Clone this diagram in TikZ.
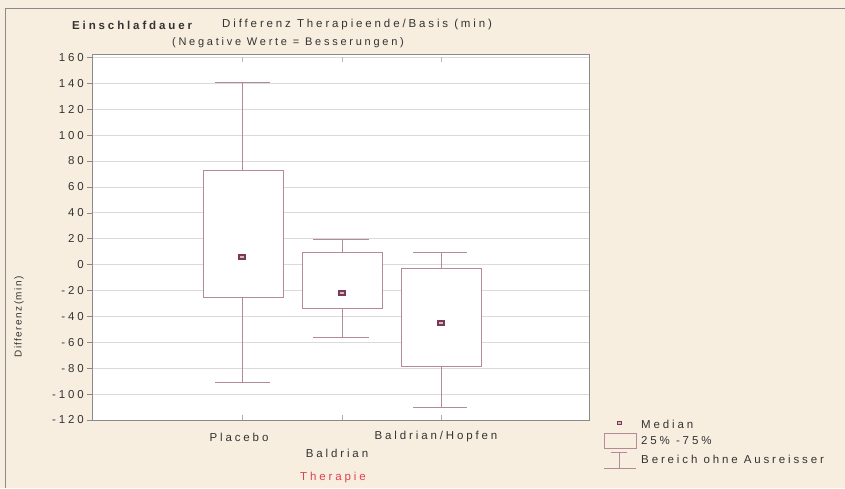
\documentclass[tikz,border=0pt]{standalone}
\usepackage{fontspec}
\setmainfont{Liberation Sans}
\newfontfamily\lsp[LetterSpace=25]{Liberation Sans}
\newfontfamily\lspy[LetterSpace=14]{Liberation Sans}
\definecolor{bg}{HTML}{F7EEDF}
\definecolor{frame}{HTML}{8A8A8A}
\definecolor{grid}{HTML}{DADADA}
\definecolor{boxc}{HTML}{B48A96}
\definecolor{medc}{HTML}{7A3A55}
\definecolor{txt}{HTML}{333333}
\definecolor{redt}{HTML}{E0404E}
\tikzset{
  lbl/.style={font=\lsp\fontsize{11.5}{13}\selectfont, text=txt, inner sep=0pt},
  ylbl/.style={lbl, anchor=east},
  boxline/.style={draw=boxc, line width=0.9pt},
  medmark/.style={draw=medc, fill=medc!35, line width=1.3pt, minimum width=6pt, minimum height=4pt, inner sep=0pt},
}
\begin{document}
\begin{tikzpicture}[x=1pt,y=-1pt]
\useasboundingbox (0,0) rectangle (845,488);
\fill[bg] (0,0) rectangle (845,488);
\draw[frame, line width=1pt] (5,488) -- (5,8) -- (845,8);
% plot area
\fill[white] (92,54) rectangle (589,420);
% titles
\node[lbl, font=\lsp\bfseries\fontsize{11.5}{13}\selectfont, anchor=west] (t1) at (72,25) {Einschlafdauer};
\node[lbl, anchor=west] (t2) at (222,25) {Differenz Therapieende/Basis (min)};
\node[lbl, font=\lsp\fontsize{11}{12}\selectfont] (t3) at (288,43) {(Negative Werte = Besserungen)};
% data scope
\begin{scope}[shift={(0,264.6)}, y=1.2946pt]
  \foreach \v in {160,140,...,-100}{
    \draw[grid, line width=0.7pt] (92,\v) -- (589,\v);
    \draw[frame, line width=0.6pt] (87,\v) -- (92,\v);
  }
  \draw[frame, line width=0.6pt] (87,-120) -- (92,-120);
  \foreach \v in {160,140,...,-120}{
    \node[ylbl] at (84,\v) {\v};
  }
  % category ticks
  \foreach \c in {242,342,441}{
    \draw[frame!70, line width=0.6pt] (\c,-120) -- (\c,-116.5);
    \draw[frame!60, line width=0.6pt] (\c,160) -- (\c,156.5);
  }
  % Placebo
  \draw[boxline] (242,141) -- (242,-91.4);
  \draw[boxline] (215,141) -- (270,141);
  \draw[boxline] (215,-91.4) -- (270,-91.4);
  \draw[boxline, fill=white] (203,73.1) rectangle (283,-25);
  \node[medmark] (m1) at (242,5.9) {};
  % Baldrian
  \draw[boxline] (342,19.8) -- (342,-56);
  \draw[boxline] (313,19.8) -- (369,19.8);
  \draw[boxline] (313,-56) -- (369,-56);
  \draw[boxline, fill=white] (302,9.7) rectangle (382,-33.5);
  \node[medmark] (m2) at (342,-22) {};
  % Baldrian/Hopfen
  \draw[boxline] (441,9.7) -- (441,-110);
  \draw[boxline] (413,9.7) -- (467,9.7);
  \draw[boxline] (413,-110) -- (467,-110);
  \draw[boxline, fill=white] (401,-2.6) rectangle (481,-78.3);
  \node[medmark] (m3) at (441,-45) {};
\end{scope}
% axes frame
\draw[frame, line width=0.9pt] (92,54) rectangle (589,420);
% category labels
\node[lbl] (c1) at (239,437) {Placebo};
\node[lbl] (c2) at (337,453) {Baldrian};
\node[lbl] (c3) at (436,437) {Baldrian/Hopfen};
\node[lbl, text=redt] (xt) at (333,478) {Therapie};
% y axis title
\node[lbl, font=\lspy\fontsize{10}{12}\selectfont, rotate=90] (yt) at (19,317) {Differenz(min)};
% legend
\node[medmark, minimum width=4pt, minimum height=3pt, line width=1pt] (lm) at (619,423) {};
\node[lbl, anchor=west] (l1) at (641,424) {Median};
\draw[boxline, line width=0.7pt] (604,433) rectangle (636,448);
\node[lbl, anchor=west] (l2) at (641,441) {25\% -75\%};
\draw[boxline, line width=0.7pt] (611,452) -- (627,452);
\draw[boxline, line width=0.7pt] (619,452) -- (619,468);
\draw[boxline, line width=0.7pt] (604,468) -- (636,468);
\node[lbl, anchor=west] (l3) at (641,459) {Bereich ohne Ausreisser};
\end{tikzpicture}
\end{document}
